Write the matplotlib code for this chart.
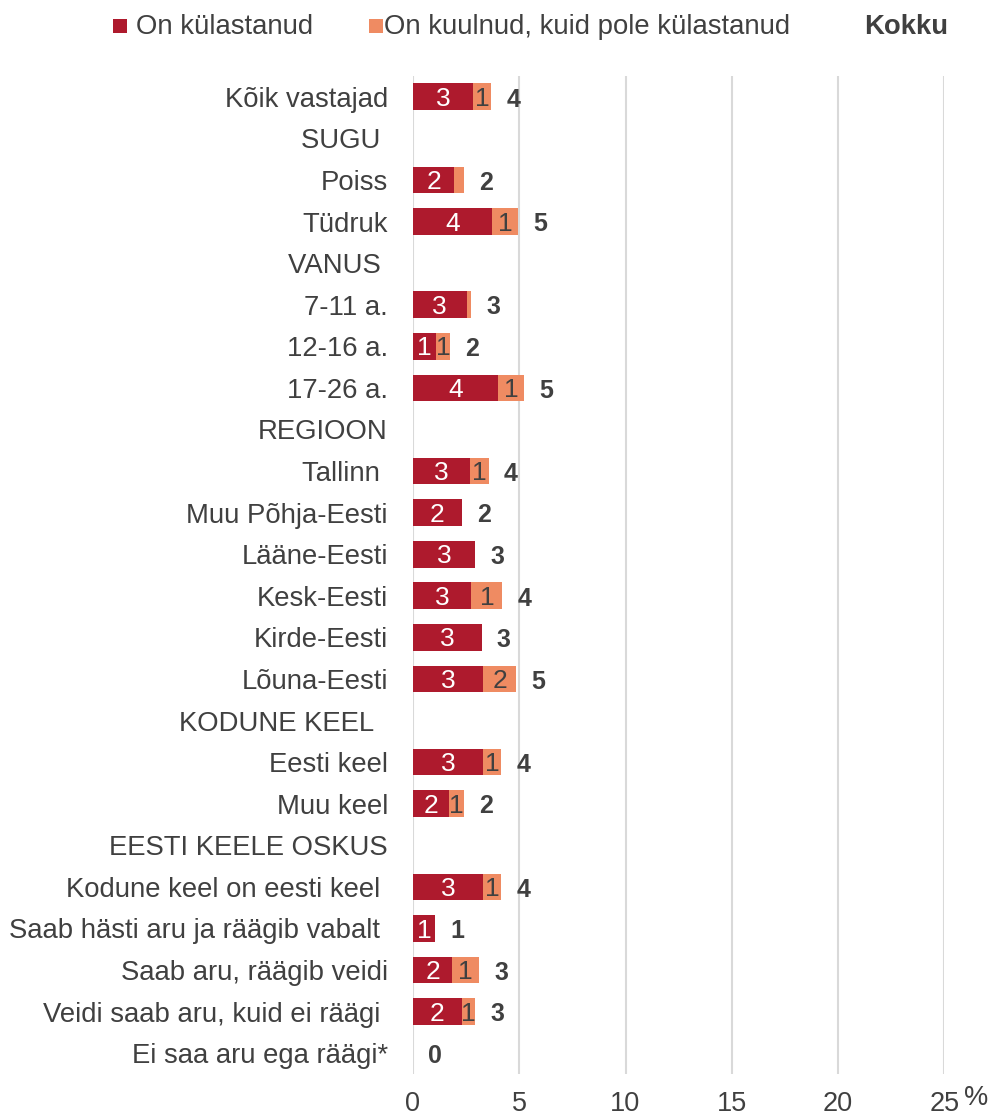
import matplotlib
matplotlib.use("Agg")
import matplotlib.pyplot as plt
from matplotlib.patches import Rectangle
import numpy as np

plt.rcParams['font.family'] = ['Liberation Sans', 'DejaVu Sans']

categories = ["Kõik vastajad", "SUGU ", "Poiss", "Tüdruk", "VANUS ", "7-11 a.", "12-16 a.",
              "17-26 a.", "REGIOON", "Tallinn ", "Muu Põhja-Eesti", "Lääne-Eesti", "Kesk-Eesti",
              "Kirde-Eesti", "Lõuna-Eesti", "KODUNE KEEL  ", "Eesti keel", "Muu keel",
              "EESTI KEELE OSKUS", "Kodune keel on eesti keel ", "Saab hästi aru ja räägib vabalt ",
              "Saab aru, räägib veidi", "Veidi saab aru, kuid ei räägi ", "Ei saa aru ega räägi*"]
is_header = [False, True, False, False, True, False, False, False, True, False, False, False,
             False, False, False, True, False, False, True, False, False, False, False, False]
visited = [2.83, 0, 1.93, 3.74, 0, 2.52, 1.08, 4.02, 0, 2.67, 2.30, 2.94, 2.75, 3.23, 3.31,
           0, 3.31, 1.68, 0, 3.31, 1.02, 1.84, 2.30, 0]
heard = [0.84, 0, 0.47, 1.19, 0, 0.23, 0.67, 1.21, 0, 0.89, 0, 0, 1.46, 0, 1.56,
         0, 0.83, 0.72, 0, 0.83, 0, 1.26, 0.64, 0]
xticks = [0, 5, 10, 15, 20, 25]
legend_labels = ["On külastanud", "On kuulnud, kuid pole külastanud", "Kokku"]

RED = "#AE1A2D"
ORANGE = "#EF8B62"
TXT = "#404040"

W, H = 1002, 1115
fig = plt.figure(figsize=(W / 100, H / 100), dpi=100)
ax = fig.add_axes([413 / W, 1 - 1074 / H, (944.25 - 413) / W, (1074 - 76) / H])

y = np.arange(len(categories))
v = np.array(visited)
h = np.array(heard)
mask = ~np.array(is_header)

ax.barh(y[mask], v[mask], height=0.64, color=RED, zorder=3)
ax.barh(y[mask], h[mask], left=v[mask], height=0.64, color=ORANGE, zorder=3)

for i in y[mask]:
    if round(v[i]) > 0:
        ax.annotate(f"{v[i]:.0f}", (v[i] / 2, i), xytext=(0, -1.5), textcoords="offset points",
                    ha="center", va="center", color="white", fontsize=19, zorder=4)
    if round(h[i]) > 0:
        ax.annotate(f"{h[i]:.0f}", (v[i] + h[i] / 2, i), xytext=(0, -1.5),
                    textcoords="offset points", ha="center", va="center", color=TXT,
                    fontsize=19, zorder=4)
    tot = v[i] + h[i]
    ax.annotate(f"{tot:.0f}", (tot, i), xytext=(11, -2), textcoords="offset points",
                ha="left", va="center", color=TXT, fontsize=18, fontweight="bold", zorder=4)

ax.set_xlim(0, 25)
ax.set_ylim(len(categories) - 0.5, -0.5)
ax.set_xticks(xticks)
ax.set_xticklabels([str(t) for t in xticks])
ax.set_yticks(y)
ax.set_yticklabels(categories)
ax.tick_params(axis="y", length=0, pad=18, labelsize=19.8, labelcolor=TXT)
ax.tick_params(axis="x", length=0, pad=12, labelsize=19.5, labelcolor=TXT)
ax.grid(axis="x", color="#D9D9D9", linewidth=1.5, zorder=0)
ax.set_axisbelow(True)
for s in ax.spines.values():
    s.set_visible(False)

fig.text(976 / W, 1 - 1098 / H, "%", ha="center", va="center", fontsize=19.5, color=TXT)

# legend
def px(x0, y0):
    return x0 / W, 1 - y0 / H

sq = 14
fig.add_artist(Rectangle(px(113, 33), sq / W, sq / H, transform=fig.transFigure,
                         facecolor=RED, edgecolor="none"))
fig.text(*px(136, 27), legend_labels[0], ha="left", va="center", fontsize=19.8, color=TXT)
fig.add_artist(Rectangle(px(369, 33), sq / W, sq / H, transform=fig.transFigure,
                         facecolor=ORANGE, edgecolor="none"))
fig.text(*px(384, 27), legend_labels[1], ha="left", va="center", fontsize=19.8, color=TXT)
fig.text(*px(864, 27), legend_labels[2], ha="left", va="center", fontsize=19.8,
         fontweight="bold", color=TXT)

fig.savefig("out.png", dpi=100, facecolor="white")
